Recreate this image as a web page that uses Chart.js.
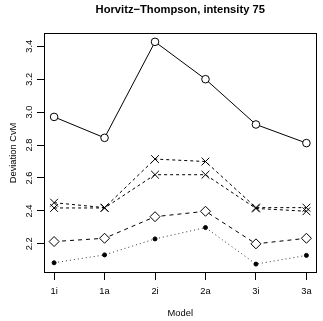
<!DOCTYPE html>
<html>
<head>
<meta charset="utf-8">
<script src="https://cdn.jsdelivr.net/npm/chart.js@4/dist/chart.umd.min.js"></script>
<style>
  html, body { margin: 0; padding: 0; background: #fff; }
  canvas { display: block; }
</style>
</head>
<body>
<canvas id="chart" width="323" height="321"></canvas>
<script>
// --- data ---
const models = ['1i', '1a', '2i', '2a', '3i', '3a'];
const circleVals  = [2.971, 2.844, 3.427, 3.200, 2.925, 2.812];
const crossUpper  = [2.450, 2.420, 2.715, 2.700, 2.420, 2.420];
const crossLower  = [2.418, 2.418, 2.620, 2.620, 2.415, 2.398];
const diamondVals = [2.214, 2.234, 2.365, 2.398, 2.200, 2.234];
const dotVals     = [2.085, 2.133, 2.230, 2.299, 2.077, 2.130];
const yTicks = [2.2, 2.4, 2.6, 2.8, 3.0, 3.2, 3.4];

// R style axis limits: data range padded by 4% on each side
const allVals = [].concat(circleVals, crossUpper, crossLower, diamondVals, dotVals);
const yLo = Math.min(...allVals), yHi = Math.max(...allVals);
const yPad = (yHi - yLo) * 0.04;
const xPad = (models.length - 1) * 0.04;

const FONT = "'Liberation Sans', Arial, Helvetica, sans-serif";

function toPoints(vals) {
    return vals.map((v, i) => ({ x: i + 1, y: v }));
}

// draws the closed box around the plot region, like R's box()
const boxPlugin = {
    id: 'box',
    afterDatasetsDraw(chart) {
        const { ctx, chartArea: a } = chart;
        ctx.save();
        ctx.strokeStyle = '#000';
        ctx.lineWidth = 1;
        ctx.strokeRect(Math.round(a.left) + 0.5, Math.round(a.top) + 0.5,
            Math.round(a.right - a.left) - 1, Math.round(a.bottom - a.top) - 1);
        ctx.restore();
    }
};

const common = { borderColor: '#000', borderWidth: 1, pointBorderColor: '#000',
                 pointBorderWidth: 1, tension: 0, fill: false };

new Chart(document.getElementById('chart'), {
    type: 'line',
    data: {
        datasets: [
            { ...common, data: toPoints(dotVals), borderDash: [1, 3], borderColor: '#333',
              pointStyle: 'circle', pointRadius: 2, pointBackgroundColor: '#000' },
            { ...common, data: toPoints(diamondVals), borderDash: [4, 4],
              pointStyle: 'rectRot', pointRadius: 5, pointBackgroundColor: '#fff' },
            { ...common, data: toPoints(crossLower), borderDash: [3, 3],
              pointStyle: 'crossRot', pointRadius: 5.5 },
            { ...common, data: toPoints(crossUpper), borderDash: [3, 3],
              pointStyle: 'crossRot', pointRadius: 5.5 },
            { ...common, data: toPoints(circleVals),
              pointStyle: 'circle', pointRadius: 3.8, pointBackgroundColor: '#fff' }
        ]
    },
    options: {
        responsive: false,
        animation: false,
        devicePixelRatio: 1,
        layout: { padding: { right: 4, top: 0, left: 0, bottom: 0 } },
        plugins: {
            legend: { display: false },
            tooltip: { enabled: false },
            title: {
                display: true,
                text: 'Horvitz\u2212Thompson, intensity 75',
                fullSize: false,
                color: '#000',
                font: { family: FONT, size: 11.2, weight: 'bold' },
                padding: { top: 3.5, bottom: 16 }
            }
        },
        scales: {
            x: {
                type: 'linear',
                position: 'bottom',
                min: 1 - xPad,
                max: models.length + xPad,
                afterBuildTicks: s => { s.ticks = models.map((m, i) => ({ value: i + 1 })); },
                afterFit: s => { s.height = 48; },
                ticks: {
                    callback: v => models[Math.round(v) - 1],
                    color: '#000',
                    font: { family: FONT, size: 9.33 },
                    padding: 6,
                    maxRotation: 0,
                    autoSkip: false
                },
                grid: { drawOnChartArea: false, drawTicks: true, tickLength: 7, color: '#000' },
                border: { display: false },
                title: {
                    display: true, text: 'Model', color: '#000',
                    font: { family: FONT, size: 9.33 },
                    padding: { top: 0, bottom: 1.5 }
                }
            },
            y: {
                type: 'linear',
                min: yLo - yPad,
                max: yHi + yPad,
                afterBuildTicks: s => { s.ticks = yTicks.map(v => ({ value: v })); },
                afterFit: s => { s.width = 44; },
                ticks: {
                    callback: v => v.toFixed(1),
                    color: '#000',
                    font: { family: FONT, size: 9.33 },
                    minRotation: 90,
                    maxRotation: 90,
                    crossAlign: 'center',
                    padding: 1
                },
                grid: { drawOnChartArea: false, drawTicks: true, tickLength: 7, color: '#000' },
                border: { display: false },
                title: {
                    display: true, text: 'Deviation CvM', color: '#000',
                    font: { family: FONT, size: 9.33 },
                    padding: { top: 7.5, bottom: 0 }
                }
            }
        }
    },
    plugins: [boxPlugin]
});
</script>
</body>
</html>
